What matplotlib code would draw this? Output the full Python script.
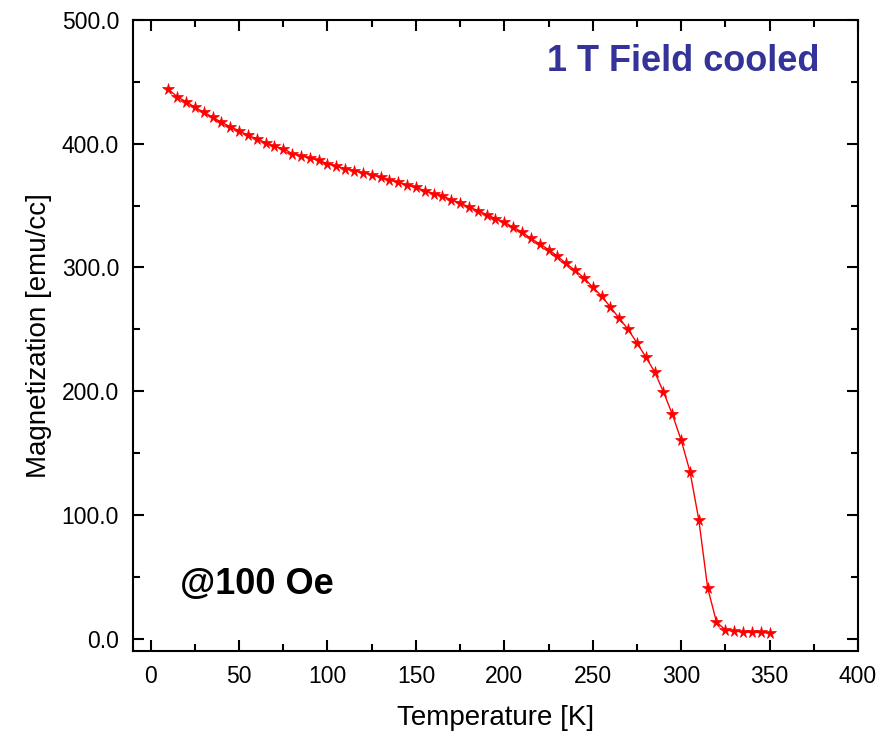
import matplotlib
matplotlib.use("Agg")
import matplotlib.pyplot as plt
from matplotlib.ticker import MultipleLocator, FormatStrFormatter

plt.rcParams['font.family'] = ['Liberation Sans', 'DejaVu Sans']

temperature = list(range(10, 355, 5))
magnetization = [
    444, 438, 434, 429.5, 425.5, 421.5, 417.4, 413.7, 410.5, 406.7,
    404, 400.8, 397.8, 396, 392, 390.3, 388.4, 386.5, 384, 381.7,
    379.8, 378.2, 376.6, 375, 372.8, 370.6, 368.8, 366.4, 364.8, 362,
    359.7, 357.7, 354.8, 352, 348.9, 346, 342.7, 339.5, 336.5, 332.5,
    328.7, 323.4, 319, 314.5, 309, 303.2, 297.6, 291.6, 284, 276.9,
    268, 258.9, 250, 239, 227.7, 215.6, 199.4, 181.4, 160.5, 135,
    96, 41, 13.4, 7, 6, 5.5, 5, 5, 4.5,
]

fig = plt.figure(figsize=(8.9, 7.41), dpi=100)
ax = fig.add_axes([0.1494, 0.1215, 0.8146, 0.8515])

ax.plot(temperature, magnetization, color='red', lw=1.0, marker='*',
        markersize=8.5, markeredgewidth=0.5)

ax.set_xlim(-10, 400)
ax.set_ylim(-10, 500)
ax.xaxis.set_major_locator(MultipleLocator(50))
ax.xaxis.set_minor_locator(MultipleLocator(25))
ax.yaxis.set_major_locator(MultipleLocator(100))
ax.yaxis.set_minor_locator(MultipleLocator(50))
ax.yaxis.set_major_formatter(FormatStrFormatter('%.1f'))

ax.tick_params(which='both', direction='in', top=True, right=True, width=1.5)
ax.tick_params(which='major', length=8, labelsize=16.5, pad=10)
ax.tick_params(which='minor', length=5)
for s in ax.spines.values():
    s.set_linewidth(1.5)

ax.set_xlabel('Temperature [K]', fontsize=20, labelpad=12)
ax.set_ylabel('Magnetization [emu/cc]', fontsize=20, labelpad=7)

ax.text(0.947, 0.935, '1 T Field cooled', transform=ax.transAxes, ha='right',
        va='center', fontsize=26, fontweight='bold', color='#333399')
ax.text(0.065, 0.105, '@100 Oe', transform=ax.transAxes, ha='left',
        va='center', fontsize=26, fontweight='bold', color='black')

fig.savefig('out.png', dpi=100)
